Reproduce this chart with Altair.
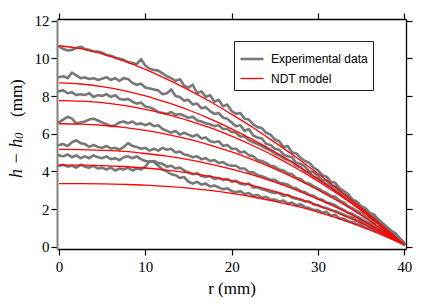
import altair as alt
import pandas as pd

# ---------------- data ----------------
r_model = [0, 2.5, 5, 7.5, 10, 12.5, 15, 17.5, 20, 22.5, 25, 27.5, 30, 32.5, 35, 37.5, 40]

model_1 = [10.67, 10.52, 10.24, 9.87, 9.42, 8.90, 8.33, 7.71, 7.03, 6.32, 5.54, 4.74, 3.88, 3.00, 2.07, 1.10, 0.10]
model_2 = [8.70, 8.64, 8.50, 8.29, 8.01, 7.66, 7.26, 6.79, 6.26, 5.67, 5.04, 4.35, 3.60, 2.81, 1.96, 1.05, 0.10]
model_3 = [7.76, 7.73, 7.65, 7.50, 7.29, 7.03, 6.70, 6.32, 5.87, 5.36, 4.80, 4.17, 3.48, 2.73, 1.92, 1.03, 0.10]
model_4 = [6.53, 6.51, 6.45, 6.34, 6.18, 5.97, 5.71, 5.40, 5.03, 4.61, 4.13, 3.60, 3.02, 2.38, 1.68, 0.91, 0.10]
model_5 = [5.17, 5.16, 5.12, 5.06, 4.95, 4.81, 4.62, 4.39, 4.12, 3.80, 3.43, 3.01, 2.53, 2.01, 1.43, 0.79, 0.10]
model_6 = [4.34, 4.33, 4.31, 4.26, 4.18, 4.07, 3.92, 3.74, 3.51, 3.25, 2.94, 2.59, 2.19, 1.75, 1.25, 0.70, 0.10]
model_7 = [3.35, 3.35, 3.34, 3.31, 3.27, 3.20, 3.11, 2.99, 2.83, 2.64, 2.41, 2.15, 1.84, 1.48, 1.07, 0.61, 0.10]

# experimental profiles sampled every 0.5 mm from r = 0 to 40
r_exp = [i / 2 for i in range(81)]

exp_1 = [10.62, 10.50, 10.42, 10.45, 10.55, 10.62, 10.50, 10.45, 10.38, 10.36,
         10.30, 10.18, 10.14, 10.05, 9.98, 9.92, 9.80, 9.75, 9.70, 9.95,
         9.62, 9.45, 9.38, 9.35, 9.20, 9.05, 8.95, 8.80, 8.90, 8.55,
         8.45, 8.60, 8.15, 8.25, 7.95, 8.05, 7.70, 7.80, 7.45, 7.55,
         7.20, 7.05, 7.10, 6.80, 6.75, 6.50, 6.35, 6.30, 6.05, 5.95,
         5.70, 5.60, 5.30, 5.35, 5.00, 4.95, 4.70, 4.55, 4.45, 4.20,
         4.05, 3.80, 3.72, 3.45, 3.40, 3.10, 2.95, 2.80, 2.50, 2.40,
         2.15, 2.05, 1.80, 1.70, 1.45, 1.25, 1.05, 0.85, 0.70, 0.40, 0.20]
exp_2 = [9.00, 9.05, 8.95, 9.25, 9.10, 8.95, 8.98, 8.90, 8.95, 8.85,
         8.92, 9.00, 8.85, 8.95, 8.80, 8.95, 8.90, 8.70, 8.60, 8.65,
         8.45, 8.40, 8.35, 8.30, 8.10, 8.15, 8.35, 8.00, 7.95, 7.75,
         7.80, 7.55, 7.60, 7.35, 7.40, 7.20, 7.05, 7.10, 6.85, 6.80,
         6.60, 6.40, 6.45, 6.15, 6.25, 5.90, 5.80, 5.75, 5.45, 5.40,
         5.20, 5.15, 4.90, 4.80, 4.75, 4.45, 4.40, 4.25, 4.00, 3.95,
         3.75, 3.55, 3.50, 3.25, 3.20, 2.95, 2.75, 2.70, 2.40, 2.35,
         2.05, 1.95, 1.70, 1.55, 1.45, 1.15, 1.00, 0.75, 0.60, 0.40, 0.15]
exp_3 = [8.25, 8.30, 8.15, 8.20, 8.05, 8.10, 8.05, 8.15, 7.95, 8.05,
         8.00, 8.10, 7.95, 8.05, 7.85, 7.80, 7.85, 7.70, 7.60, 7.65,
         7.45, 7.40, 7.30, 7.15, 7.10, 7.05, 7.15, 7.00, 7.05, 6.95,
         6.85, 6.90, 6.70, 6.65, 6.55, 6.50, 6.40, 6.45, 6.25, 6.25,
         6.10, 6.05, 5.85, 5.85, 5.65, 5.55, 5.45, 5.35, 5.20, 5.10,
         4.95, 4.85, 4.70, 4.60, 4.50, 4.30, 4.20, 4.00, 3.90, 3.70,
         3.60, 3.45, 3.30, 3.20, 3.00, 2.85, 2.70, 2.55, 2.40, 2.25,
         2.05, 1.90, 1.65, 1.60, 1.35, 1.20, 1.00, 0.80, 0.70, 0.45, 0.20]
exp_4 = [6.60, 6.75, 6.90, 6.80, 6.55, 6.60, 6.65, 6.75, 6.80, 6.70,
         6.60, 6.50, 6.40, 6.45, 6.60, 6.65, 6.55, 6.65, 6.50, 6.55,
         6.45, 6.55, 6.40, 6.45, 6.25, 6.15, 6.05, 6.15, 5.95, 6.05,
         5.95, 5.85, 5.95, 5.75, 5.80, 5.60, 5.55, 5.60, 5.35, 5.40,
         5.20, 5.20, 5.00, 5.05, 4.85, 4.80, 4.60, 4.55, 4.45, 4.30,
         4.25, 4.10, 4.05, 3.90, 3.85, 3.65, 3.60, 3.40, 3.35, 3.20,
         3.10, 2.95, 2.85, 2.70, 2.65, 2.45, 2.35, 2.15, 2.05, 1.90,
         1.80, 1.60, 1.50, 1.30, 1.25, 1.00, 0.85, 0.70, 0.50, 0.35, 0.15]
exp_5 = [5.40, 5.45, 5.35, 5.55, 5.65, 5.50, 5.45, 5.30, 5.40, 5.30,
         5.25, 5.35, 5.20, 5.25, 5.15, 5.30, 5.50, 5.35, 5.30, 5.20,
         5.25, 5.10, 5.20, 5.10, 5.25, 5.15, 5.20, 5.00, 5.05, 4.90,
         4.85, 4.75, 4.80, 4.65, 4.70, 4.55, 4.60, 4.45, 4.50, 4.35,
         4.30, 4.30, 4.15, 4.15, 3.95, 3.95, 3.80, 3.75, 3.65, 3.55,
         3.55, 3.40, 3.35, 3.30, 3.15, 3.10, 2.95, 2.90, 2.75, 2.70,
         2.55, 2.50, 2.35, 2.30, 2.20, 2.05, 1.95, 1.80, 1.75, 1.60,
         1.50, 1.35, 1.25, 1.10, 1.05, 0.85, 0.75, 0.55, 0.45, 0.30, 0.15]
exp_6 = [4.85, 4.80, 4.90, 4.75, 4.85, 4.70, 4.80, 4.70, 4.85, 4.75,
         4.70, 4.80, 4.65, 4.70, 4.60, 4.75, 4.80, 4.70, 4.80, 4.65,
         4.55, 4.50, 4.55, 4.45, 4.40, 4.25, 4.30, 4.15, 4.20, 4.05,
         3.95, 3.85, 3.90, 3.75, 3.70, 3.75, 3.60, 3.65, 3.55, 3.60,
         3.45, 3.50, 3.35, 3.30, 3.35, 3.15, 3.15, 3.05, 3.00, 2.90,
         2.85, 2.85, 2.70, 2.75, 2.60, 2.55, 2.50, 2.40, 2.40, 2.25,
         2.20, 2.10, 2.05, 1.95, 1.90, 1.80, 1.70, 1.60, 1.55, 1.40,
         1.35, 1.20, 1.15, 1.00, 0.95, 0.80, 0.70, 0.55, 0.45, 0.30, 0.15]
exp_7 = [4.30, 4.35, 4.25, 4.30, 4.20, 4.35, 4.25, 4.20, 4.30, 4.15,
         4.20, 4.10, 4.20, 4.05, 4.15, 4.10, 4.20, 4.05, 4.15, 4.10,
         4.25, 4.55, 4.50, 4.30, 4.10, 4.00, 3.85, 3.80, 3.65, 3.70,
         3.45, 3.35, 3.45, 3.30, 3.35, 3.20, 3.25, 3.15, 3.05, 3.10,
         2.95, 2.90, 2.95, 2.80, 2.85, 2.70, 2.75, 2.60, 2.65, 2.50,
         2.50, 2.40, 2.45, 2.30, 2.35, 2.20, 2.25, 2.10, 2.05, 1.95,
         1.95, 1.80, 1.85, 1.65, 1.70, 1.50, 1.50, 1.35, 1.30, 1.20,
         1.15, 1.00, 1.00, 0.85, 0.80, 0.65, 0.55, 0.45, 0.35, 0.25, 0.12]

series_names = ["Experimental data", "NDT model"]
x_ticks = [0, 10, 20, 30, 40]
y_ticks = [0, 2, 4, 6, 8, 10, 12]

# y-axis title pieces: italic "h − h", italic subscript "0", upright "(mm)"
ytitle_main = "h − h"
ytitle_sub = "0"
ytitle_unit = "(mm)"

# ---------------- tables ----------------
rows = []
for k, ys in enumerate([exp_1, exp_2, exp_3, exp_4, exp_5, exp_6, exp_7]):
    for r, h in zip(r_exp, ys):
        rows.append({"r": r, "h": h, "curve": f"e{k}", "kind": series_names[0]})
for k, ys in enumerate([model_1, model_2, model_3, model_4, model_5, model_6, model_7]):
    for r, h in zip(r_model, ys):
        rows.append({"r": r, "h": h, "curve": f"m{k}", "kind": series_names[1]})
df = pd.DataFrame(rows)

serif = "Liberation Serif"
sx = alt.Scale(domain=[-0.23, 40.2], nice=False, zero=False)
sy = alt.Scale(domain=[-0.12, 12.09], nice=False, zero=False)

legend = alt.Legend(
    title=None, orient="none", legendX=177, legendY=22,
    symbolType="stroke", symbolSize=529, labelFont="Liberation Sans",
    labelFontSize=12, labelColor="black", labelOffset=6,
    strokeColor="#222222", padding=5, rowPadding=1, fillColor="white",
)
color = alt.Color("kind:N", scale=alt.Scale(domain=series_names, range=["#777777", "#ff0000"]), legend=legend)
width = alt.StrokeWidth("kind:N", scale=alt.Scale(domain=series_names, range=[2.6, 1.3]), legend=legend)

ax_bottom = alt.Axis(orient="bottom", values=x_ticks, title="r (mm)", grid=False,
                     labelFont=serif, labelFontSize=15, labelColor="black", labelPadding=4,
                     tickSize=6, tickColor="black", tickWidth=1.2,
                     domainColor="black", domainWidth=1.3,
                     titleFont=serif, titleFontSize=17, titleFontWeight="normal",
                     titleColor="black", titlePadding=6)
ax_left = alt.Axis(orient="left", values=y_ticks, title=None, grid=False,
                   labelFont=serif, labelFontSize=15, labelColor="black", labelPadding=2,
                   tickSize=6, tickColor="black", tickWidth=1.2,
                   domainColor="#808080", domainWidth=2)
ax_top = alt.Axis(orient="top", values=x_ticks, title=None, labels=False, grid=False,
                  tickSize=6, tickColor="black", tickWidth=1.2,
                  domainColor="black", domainWidth=1.3)
ax_right = alt.Axis(orient="right", values=y_ticks, title=None, labels=False, grid=False,
                    tickSize=6, tickColor="black", tickWidth=1.2,
                    domainColor="black", domainWidth=1.3)

base = alt.Chart(df)
exp_layer = base.transform_filter(alt.datum.kind == series_names[0]).mark_line(
    interpolate="linear", strokeJoin="round", strokeCap="round").encode(
    x=alt.X("r:Q", scale=sx, axis=ax_bottom),
    y=alt.Y("h:Q", scale=sy, axis=ax_left),
    detail="curve:N", color=color, strokeWidth=width, order="r:Q")
mod_layer = base.transform_filter(alt.datum.kind == series_names[1]).mark_line(
    interpolate="monotone").encode(
    x=alt.X("r:Q", scale=sx, axis=ax_top),
    y=alt.Y("h:Q", scale=sy, axis=ax_right),
    detail="curve:N", color=color, strokeWidth=width, order="r:Q")

tdf = pd.DataFrame({"main": [ytitle_main], "sub": [ytitle_sub], "unit": [ytitle_unit]})
t_main = alt.Chart(tdf).mark_text(angle=270, align="left", baseline="alphabetic",
                                  font=serif, fontSize=18, fontStyle="italic", color="black").encode(
    x=alt.value(-35), y=alt.value(159), text="main:N")
t_sub = alt.Chart(tdf).mark_text(angle=270, align="left", baseline="alphabetic",
                                 font=serif, fontSize=13, fontStyle="italic", color="black").encode(
    x=alt.value(-34), y=alt.value(120), text="sub:N")
t_unit = alt.Chart(tdf).mark_text(angle=270, align="left", baseline="alphabetic",
                                  font=serif, fontSize=17, color="black").encode(
    x=alt.value(-35), y=alt.value(98), text="unit:N")

chart = alt.layer(exp_layer, mod_layer, t_main, t_sub, t_unit).resolve_axis(
    x="independent", y="independent").properties(
    width=349, height=230,
    autosize=alt.AutoSizeParams(type="none"),
    padding={"left": 49, "top": 11, "right": 20, "bottom": 52},
    background="white",
).configure_view(stroke=None)

chart.save("out.html", embed_options={"renderer": "svg", "actions": False})
